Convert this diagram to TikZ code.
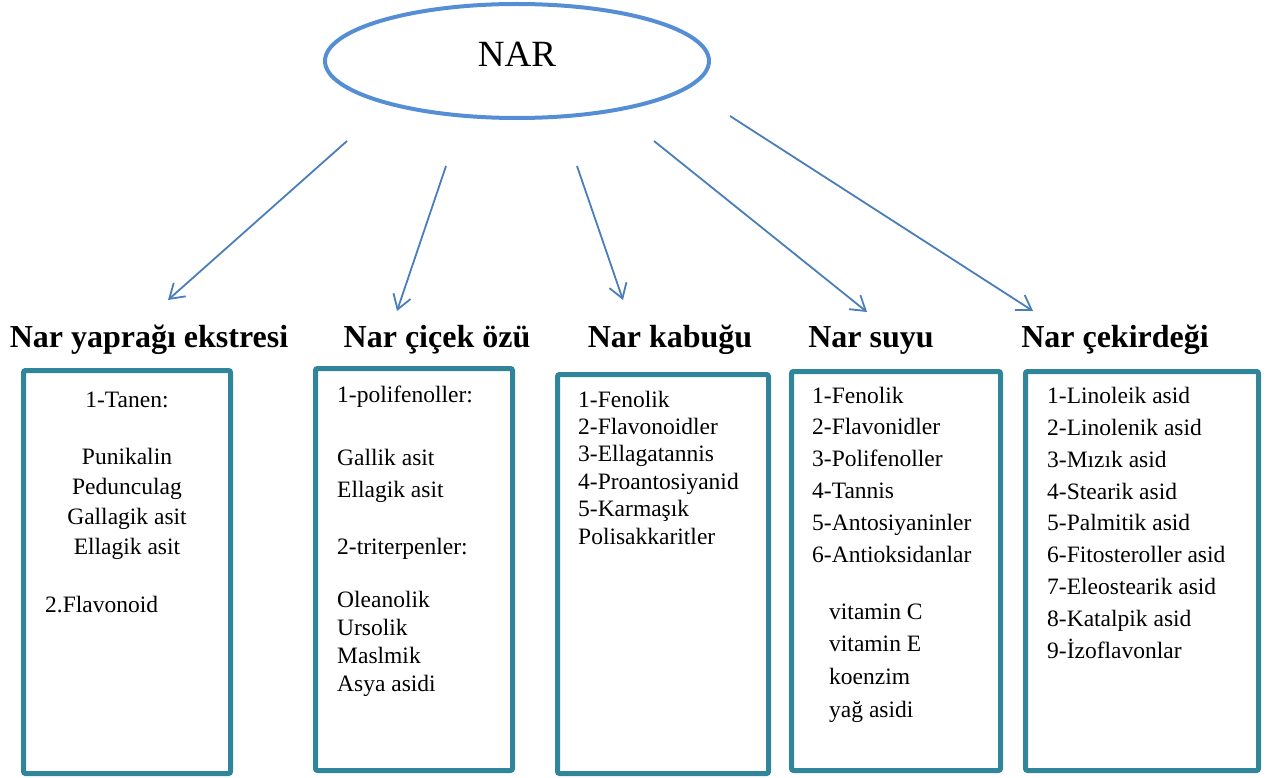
\documentclass[tikz,border=0pt]{standalone}
\usepackage{fontspec}
\setmainfont{Liberation Serif}
\usepackage{xcolor}
\definecolor{narMavi}{RGB}{85,142,213}
\definecolor{okMavi}{RGB}{74,126,187}
\definecolor{kutuTeal}{RGB}{49,133,155}
\usetikzlibrary{shapes.geometric, arrows.meta}

\begin{document}
\begin{tikzpicture}[
  x=1pt, y=-1pt,
  kok/.style={ellipse, draw=narMavi, line width=4pt, inner sep=0pt,
              minimum width=384pt, minimum height=114pt, text depth=12.6pt,
              font=\fontsize{37}{40}\selectfont},
  baslik/.style={anchor=base, inner sep=0pt, font=\fontsize{32}{36}\selectfont\bfseries},
  kutu/.style={rectangle, draw=kutuTeal, line width=5pt, rounded corners=2pt, inner sep=0pt},
  % liste: base = son satırın taban çizgisi
  liste/.style={align=left, anchor=base west, inner sep=0pt,
                font=\fontsize{23.5}{31.8}\selectfont},
  ok/.style={-{Straight Barb[length=14pt, width=18pt]}, line width=1.8pt, draw=okMavi}
]
\useasboundingbox (0,0) rectangle (1269,778);

% Kök
\node[kok] (nar) at (517,61) {NAR};

% Başlıklar
\node[baslik] (h1) at (149,347) {Nar yaprağı ekstresi};
\node[baslik] (h2) at (437,347) {Nar çiçek özü};
\node[baslik] (h3) at (670,347) {Nar kabuğu};
\node[baslik] (h4) at (871,347) {Nar suyu};
\node[baslik] (h5) at (1115,347) {Nar çekirdeği};

% Oklar
\coordinate (o1a) at (347,141);  \coordinate (o1b) at (168,300);
\coordinate (o2a) at (446,166);  \coordinate (o2b) at (397,311);
\coordinate (o3a) at (577,166);  \coordinate (o3b) at (623,300);
\coordinate (o4a) at (654,141);  \coordinate (o4b) at (867,312);
\coordinate (o5a) at (730,116);  \coordinate (o5b) at (1033,311);
\draw[ok] (o1a) -- (o1b);
\draw[ok] (o2a) -- (o2b);
\draw[ok] (o3a) -- (o3b);
\draw[ok] (o4a) -- (o4b);
\draw[ok] (o5a) -- (o5b);

% Kutular
\node[kutu, minimum width=207pt, minimum height=403pt] (b1) at (127,572) {};
\node[kutu, minimum width=197pt, minimum height=402pt] (b2) at (414,569.5) {};
\node[kutu, minimum width=211pt, minimum height=399pt] (b3) at (663,574) {};
\node[kutu, minimum width=209pt, minimum height=399pt] (b4) at (896,571) {};
\node[kutu, minimum width=233pt, minimum height=399pt] (b5) at (1142,571) {};

% Yaprak
\node[liste, align=center, anchor=base, font=\fontsize{23.5}{30}\selectfont] (l1) at (127,554)
  {1-Tanen:\\[27pt] Punikalin\\ Pedunculag\\ Gallagik asit\\ Ellagik asit};
\node[liste] (l1b) at (45,612) {2.Flavonoid};

% Çiçek
\node[liste, font=\fontsize{23.5}{27.7}\selectfont] (l2) at (337,691)
  {1-polifenoller:\\[36pt] Gallik asit\\[4.3pt] Ellagik asit\\[29.3pt] 2-triterpenler:\\[25.3pt]
   Oleanolik\\ Ursolik\\ Maslmik\\ Asya asidi};

% Kabuk
\node[liste, font=\fontsize{23.5}{27.4}\selectfont] (l3) at (578,544)
  {1-Fenolik\\ 2-Flavonoidler\\ 3-Ellagatannis\\ 4-Proantosiyanid\\ 5-Karmaşık\\ Polisakkaritler};

% Su
\node[liste] (l4) at (812,562)
  {1-Fenolik\\ 2-Flavonidler\\ 3-Polifenoller\\ 4-Tannis\\ 5-Antosiyaninler\\ 6-Antioksidanlar};
\node[liste, font=\fontsize{23.5}{32.6}\selectfont] (l4b) at (829,717)
  {vitamin C\\ vitamin E\\ koenzim\\ yağ asidi};

% Çekirdek
\node[liste] (l5) at (1047,658)
  {1-Linoleik asid\\ 2-Linolenik asid\\ 3-Mızık asid\\ 4-Stearik asid\\ 5-Palmitik asid\\
   6-Fitosteroller asid\\ 7-Eleostearik asid\\ 8-Katalpik asid\\ 9-İzoflavonlar};

\end{tikzpicture}
\end{document}
